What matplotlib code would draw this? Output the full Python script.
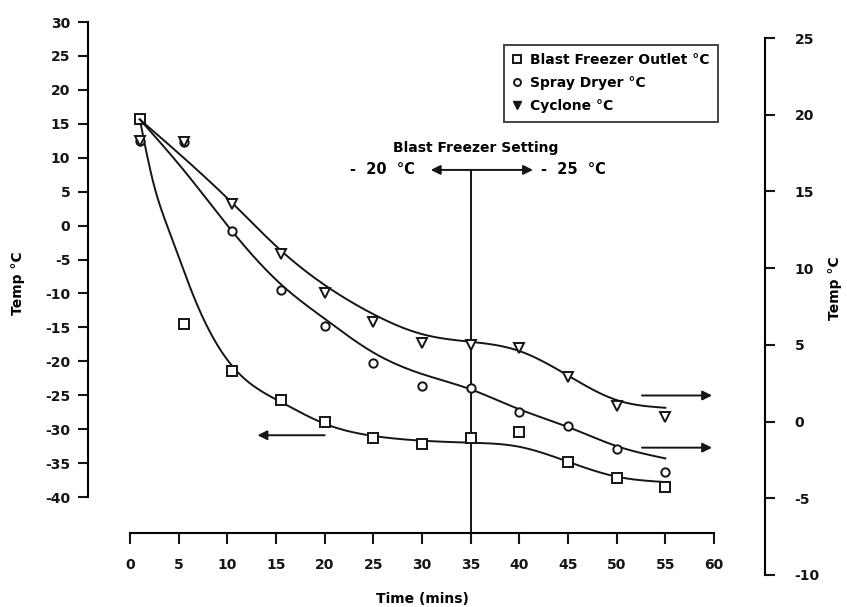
import matplotlib
matplotlib.use("Agg")
import matplotlib.pyplot as plt
from matplotlib.lines import Line2D
import numpy as np

plt.rcParams['font.family'] = ['DejaVu Sans']
plt.rcParams['axes.unicode_minus'] = False

# sampling times (mins)
time_min = [1, 5.5, 10.5, 15.5, 20, 25, 30, 35, 40, 45, 50, 55]

# left axis series
blast_outlet = [15.7, -14.5, -21.4, -25.7, -29.0, -31.3, -32.2, -31.3, -30.4, -34.9, -37.2, -38.5]
# right axis series
spray_dryer = [18.3, 18.2, 12.4, 8.6, 6.2, 3.8, 2.3, 2.2, 0.6, -0.3, -1.8, -3.3]
cyclone = [18.3, 18.2, 14.2, 10.9, 8.4, 6.5, 5.1, 5.0, 4.8, 2.9, 1.0, 0.3]

# hand-smoothed trend lines (knots)
fit_blast_t = [1, 2.4, 4.1, 6.7, 10.5, 15.5, 20, 25, 30, 35, 40, 45, 50, 55]
fit_blast = [15.7, 6.3, -1.1, -11.0, -20.7, -26.0, -29.2, -31.0, -31.7, -32.0, -32.6, -34.8, -37.0, -37.8]
fit_t = [1, 5.5, 10.5, 15.5, 20, 25, 30, 35, 40, 45, 50, 55]
fit_spray = [19.7, 16.4, 12.4, 8.95, 6.7, 4.5, 3.1, 2.1, 0.8, -0.35, -1.6, -2.4]
fit_cyclone = [19.7, 17.2, 14.25, 11.15, 8.9, 7.0, 5.7, 5.2, 4.6, 3.0, 1.4, 0.9]

left_ticks = list(range(-40, 31, 5))
right_ticks = list(range(-10, 26, 5))
x_ticks = list(range(0, 61, 5))
setting_change = 35

W, H = 847, 607
fig = plt.figure(figsize=(W / 100, H / 100), dpi=100)


def box(x0, y0, x1, y1):
    # pixel box (top-left origin) -> figure fraction rect
    return [x0 / W, 1 - y1 / H, (x1 - x0) / W, (y1 - y0) / H]


def spline(x, y, xs):
    # natural cubic spline through the knots
    x = np.asarray(x, float)
    y = np.asarray(y, float)
    n = len(x)
    h = np.diff(x)
    A = np.zeros((n, n))
    r = np.zeros(n)
    A[0, 0] = A[-1, -1] = 1
    for k in range(1, n - 1):
        A[k, k - 1] = h[k - 1]
        A[k, k] = 2 * (h[k - 1] + h[k])
        A[k, k + 1] = h[k]
        r[k] = 6 * ((y[k + 1] - y[k]) / h[k] - (y[k] - y[k - 1]) / h[k - 1])
    M = np.linalg.solve(A, r)
    i = np.clip(np.searchsorted(x, xs) - 1, 0, n - 2)
    a = x[i + 1] - xs
    b = xs - x[i]
    return (M[i] * a**3 / (6 * h[i]) + M[i + 1] * b**3 / (6 * h[i])
            + (y[i] / h[i] - M[i] * h[i] / 6) * a + (y[i + 1] / h[i] - M[i + 1] * h[i] / 6) * b)


ax = fig.add_axes(box(130, 22, 714, 497))
ax2 = fig.add_axes(box(130, 38, 714, 575))
ax2.patch.set_visible(False)

ink = '#151515'
fs = 10

# ---- left axis / x axis
ax.set_xlim(0, 60)
ax.set_ylim(-40, 30)
for s in ['top', 'right']:
    ax.spines[s].set_visible(False)
ax.spines['left'].set_position(('outward', 30))
ax.spines['bottom'].set_position(('outward', 26))
ax.spines['left'].set_linewidth(1.5)
ax.spines['bottom'].set_linewidth(1.5)
ax.set_xticks(x_ticks)
ax.set_yticks(left_ticks)
ax.tick_params(axis='y', direction='out', length=7, width=1.5, pad=6, labelsize=fs, colors=ink)
ax.tick_params(axis='x', direction='out', length=8, width=1.5, pad=10, labelsize=fs, colors=ink)
for lab in ax.get_xticklabels() + ax.get_yticklabels():
    lab.set_fontweight('bold')
ax.set_ylabel('Temp °C', fontsize=fs, fontweight='bold')
ax.yaxis.set_label_coords(-0.18, 0.45)
ax.set_xlabel('Time (mins)', fontsize=fs, fontweight='bold', labelpad=14)

# ---- right axis
ax2.set_xlim(0, 60)
ax2.set_ylim(-10, 25)
for s in ['top', 'left', 'bottom']:
    ax2.spines[s].set_visible(False)
ax2.spines['right'].set_position(('outward', 37))
ax2.spines['right'].set_linewidth(1.5)
ax2.xaxis.set_visible(False)
ax2.yaxis.tick_right()
ax2.yaxis.set_label_position('right')
ax2.set_yticks(right_ticks)
ax2.tick_params(axis='y', direction='out', length=7, width=1.5, pad=14, labelsize=fs, colors=ink)
for lab in ax2.get_yticklabels():
    lab.set_fontweight('bold')
ax2.set_ylabel('Temp °C', fontsize=fs, fontweight='bold')
ax2.yaxis.set_label_coords(1.195, 0.535)

# ---- trend lines
tt = np.linspace(fit_blast_t[0], fit_blast_t[-1], 400)
ax.plot(tt, spline(fit_blast_t, fit_blast, tt), color=ink, lw=1.4)
tt = np.linspace(fit_t[0], fit_t[-1], 400)
ax2.plot(tt, spline(fit_t, fit_spray, tt), color=ink, lw=1.4)
ax2.plot(tt, spline(fit_t, fit_cyclone, tt), color=ink, lw=1.4)

# ---- markers
mk = dict(linestyle='none', markerfacecolor='white', markeredgecolor=ink, markeredgewidth=1.4)
ax.plot(time_min, blast_outlet, marker='s', markersize=6.5, zorder=3, **mk)
ax2.plot(time_min, spray_dryer, marker='o', markersize=6, zorder=3, **mk)
ax2.plot(time_min, cyclone, marker='v', markersize=7, zorder=3, **mk)

# ---- legend
handles = [
    Line2D([], [], marker='s', markersize=5.5, **mk),
    Line2D([], [], marker='o', markersize=5, **mk),
    Line2D([], [], marker='v', markersize=6, linestyle='none', color=ink),
]
labels = ['Blast Freezer Outlet °C', 'Spray Dryer °C', 'Cyclone °C']
leg = ax.legend(handles, labels, loc='upper left', bbox_to_anchor=(497 / W, 1 - 38 / H),
                bbox_transform=fig.transFigure, frameon=True, fancybox=False,
                handlelength=0.7, handletextpad=0.6, borderpad=0.6,
                labelspacing=0.65, prop={'weight': 'bold', 'size': 10})
leg.get_frame().set_edgecolor(ink)
leg.get_frame().set_linewidth(1.4)

# ---- freezer setting change marker
arrow_kw = dict(arrowstyle='-|>', color=ink, lw=1.4, mutation_scale=14, shrinkA=0, shrinkB=0)
ax.plot([setting_change, setting_change], [-45.5, 8.2], color=ink, lw=1.4, clip_on=False)
ax.annotate('', xy=(30.9, 8.2), xytext=(setting_change, 8.2), arrowprops=arrow_kw)
ax.annotate('', xy=(41.4, 8.2), xytext=(setting_change, 8.2), arrowprops=arrow_kw)
ax.text(setting_change + 0.5, 11.4, 'Blast Freezer Setting', ha='center', va='center',
        fontsize=10, fontweight='bold')
ax.text(29.3, 8.2, '-  20  °C', ha='right', va='center', fontsize=10.5, fontweight='bold')
ax.text(42.2, 8.2, '-  25  °C', ha='left', va='center', fontsize=10.5, fontweight='bold')

# ---- arrows pointing to the relevant axis
ax.annotate('', xy=(13.1, -30.9), xytext=(20, -30.9), arrowprops=arrow_kw)
ax2.annotate('', xy=(59.8, 1.7), xytext=(52.6, 1.7), arrowprops=arrow_kw)
ax2.annotate('', xy=(59.8, -1.7), xytext=(52.6, -1.7), arrowprops=arrow_kw)

fig.savefig('out.png', dpi=100)
